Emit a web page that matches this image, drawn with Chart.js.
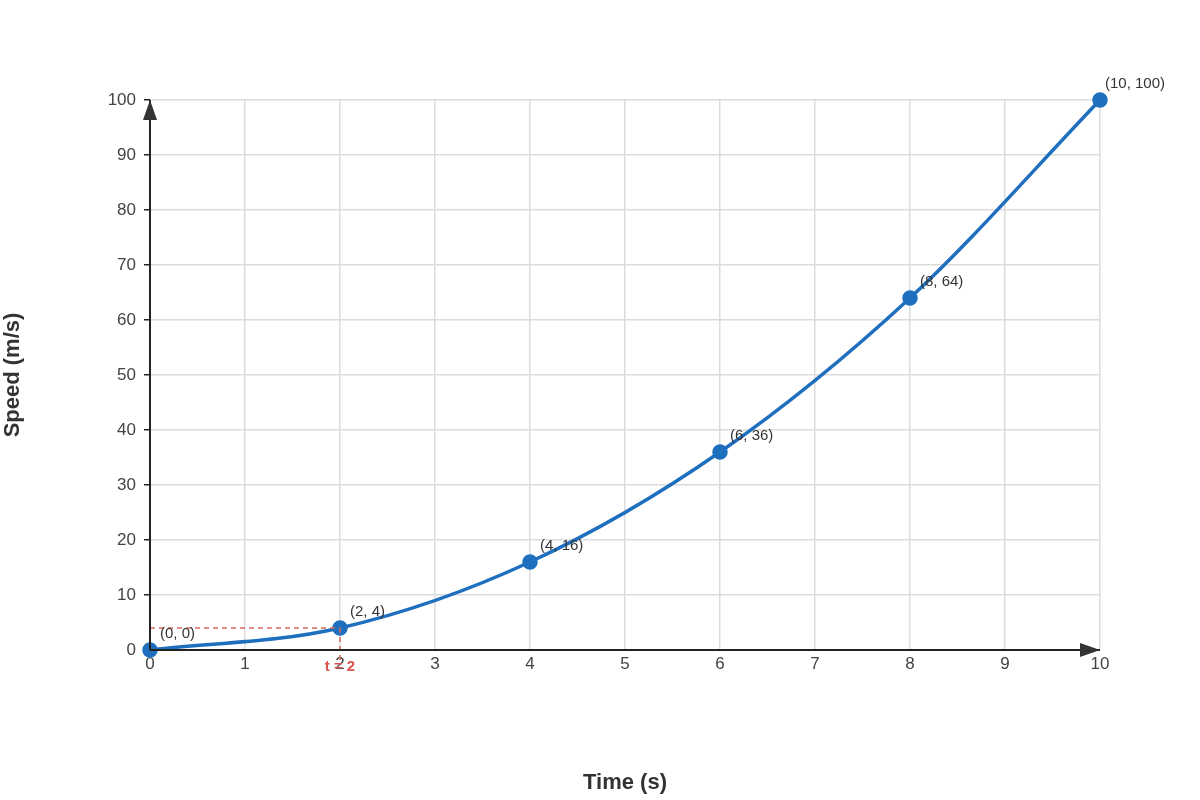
<!DOCTYPE html>
<html><head><meta charset="utf-8">
<script src="https://cdn.jsdelivr.net/npm/chart.js@4"></script>
<style>html,body{margin:0;padding:0;background:#fff}#w{width:1200px;height:800px}</style>
</head><body><div id="w"><canvas id="c"></canvas></div>
<script>
const times = [0, 2, 4, 6, 8, 10];
const speeds = [0, 4, 16, 36, 64, 100];
const pointLabels = ["(0, 0)", "(2, 4)", "(4, 16)", "(6, 36)", "(8, 64)", "(10, 100)"];
const markTime = 2;
const markLabel = "t = 2";
const xTitle = "Time (s)";
const yTitle = "Speed (m/s)";
const FONT = "'Liberation Sans', Arial, sans-serif";

const overlay = {
  id: 'overlay',
  afterDatasetsDraw(chart) {
    const {ctx, scales: {x, y}} = chart;
    ctx.save();
    // dashed marker
    const px = x.getPixelForValue(markTime), py = y.getPixelForValue(speeds[times.indexOf(markTime)]);
    ctx.strokeStyle = '#d9695a'; ctx.lineWidth = 1.5; ctx.setLineDash([5, 4]);
    ctx.beginPath(); ctx.moveTo(x.getPixelForValue(0), py); ctx.lineTo(px, py);
    ctx.moveTo(px, py); ctx.lineTo(px, y.getPixelForValue(0) + 10); ctx.stroke();
    ctx.setLineDash([]);
    ctx.fillStyle = '#d9534f'; ctx.font = 'bold 15px ' + FONT; ctx.textAlign = 'center'; ctx.textBaseline = 'middle';
    ctx.fillText(markLabel, px, y.getPixelForValue(0) + 17);
    // axes with arrows
    const x0 = x.getPixelForValue(0), y0 = y.getPixelForValue(0);
    ctx.strokeStyle = '#222'; ctx.fillStyle = '#333'; ctx.lineWidth = 2;
    ctx.beginPath(); ctx.moveTo(x0, y0); ctx.lineTo(x.right, y0); ctx.moveTo(x0, y0); ctx.lineTo(x0, y.top); ctx.stroke();
    ctx.beginPath(); ctx.moveTo(x.right, y0); ctx.lineTo(x.right - 20, y0 - 7); ctx.lineTo(x.right - 20, y0 + 7); ctx.closePath(); ctx.fill();
    ctx.beginPath(); ctx.moveTo(x0, y.top); ctx.lineTo(x0 - 7, y.top + 20); ctx.lineTo(x0 + 7, y.top + 20); ctx.closePath(); ctx.fill();
    // point labels
    ctx.fillStyle = '#333'; ctx.font = '15px ' + FONT; ctx.textAlign = 'left'; ctx.textBaseline = 'middle';
    times.forEach((t, i) => {
      const dx = i === times.length - 1 ? 5 : 10;
      ctx.fillText(pointLabels[i], x.getPixelForValue(t) + dx, y.getPixelForValue(speeds[i]) - 16);
    });
    ctx.restore();
  }
};

new Chart(document.getElementById('c'), {
  type: 'line',
  data: { datasets: [{
    data: times.map((t, i) => ({x: t, y: speeds[i]})),
    borderColor: '#1f6fbf', backgroundColor: '#1f6fbf', borderWidth: 3.5,
    pointRadius: 6, pointHoverRadius: 6, cubicInterpolationMode: 'monotone', clip: false
  }]},
  options: {
    responsive: true, maintainAspectRatio: false, animation: false,
    layout: { padding: { left: 0, right: 100, top: 100, bottom: 0 } },
    plugins: { legend: { display: false }, tooltip: { enabled: false } },
    scales: {
      x: {
        type: 'linear', min: 0, max: 10,
        ticks: { stepSize: 1, color: '#444', font: { size: 17, family: FONT }, padding: 4 },
        grid: { color: '#dcdcdc', lineWidth: 1.5, tickLength: 6, drawTicks: false },
        border: { display: false },
        title: { display: true, text: xTitle, color: '#333', font: { size: 22, weight: 'bold', family: FONT }, padding: { top: 22 } },
        afterFit(s) { s.height = 150; }
      },
      y: {
        min: 0, max: 100,
        ticks: { stepSize: 10, color: '#444', font: { size: 17, family: FONT }, padding: 8 },
        grid: { color: '#dcdcdc', lineWidth: 1.5, tickLength: 6, tickColor: '#222' },
        border: { display: false },
        title: { display: true, text: yTitle, color: '#333', font: { size: 22, weight: 'bold', family: FONT }, padding: { top: 0, bottom: 0 } },
        afterFit(s) { s.width = 150; }
      }
    }
  },
  plugins: [overlay]
});
</script></body></html>
